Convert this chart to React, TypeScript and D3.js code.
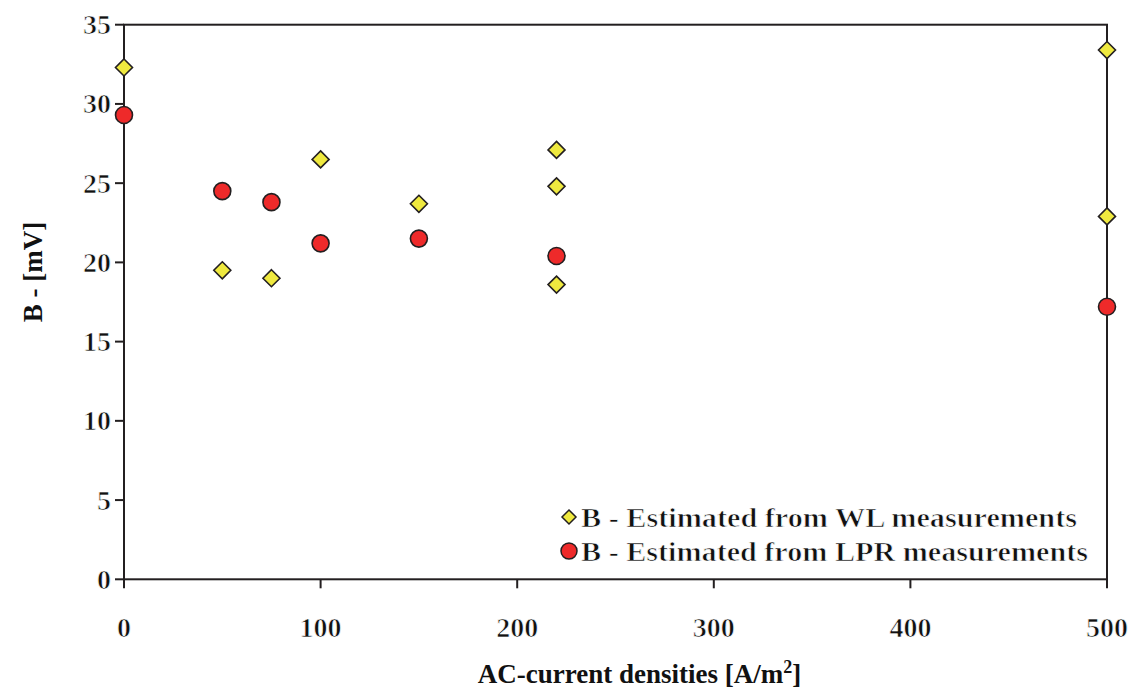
import React from "react";
import * as d3 from "d3";

// B values estimated from weight-loss measurements
const wlCurrent = [0, 50, 75, 100, 150, 220, 220, 220, 500, 500];
const wlB = [32.3, 19.5, 19.0, 26.5, 23.7, 27.1, 24.8, 18.6, 33.4, 22.9];

// B values estimated from LPR measurements
const lprCurrent = [0, 50, 75, 100, 150, 220, 500];
const lprB = [29.3, 24.5, 23.8, 21.2, 21.5, 20.4, 17.2];

const xTicks = [0, 100, 200, 300, 400, 500];
const yTicks = [0, 5, 10, 15, 20, 25, 30, 35];

const legendLabels = [
  "B - Estimated from WL measurements",
  "B - Estimated from LPR measurements",
];

const W = 1134;
const H = 691;
const M = { left: 124, right: 1107, top: 24.7, bottom: 579.3 };

const FONT = "'Liberation Serif', 'Times New Roman', serif";
const YELLOW = "#efe93f";
const RED = "#ee2a2a";
const STROKE = "#231f20";

function diamond(cx: number, cy: number, r: number) {
  return `M${cx},${cy - r}L${cx + r},${cy}L${cx},${cy + r}L${cx - r},${cy}Z`;
}

// lighter serif text: the bold face thinned by a white outline
const light = {
  fontFamily: FONT,
  fontWeight: 700 as const,
  fill: "#111",
  stroke: "#fff",
  strokeWidth: 0.72,
  strokeLinejoin: "round" as const,
};
const heavy = { fontFamily: FONT, fontWeight: 700 as const, fill: "#111" };

export default function App() {
  const x = d3.scaleLinear().domain([0, 500]).range([M.left, M.right]);
  const y = d3.scaleLinear().domain([0, 35]).range([M.bottom, M.top]);

  return (
    <svg
      width={W}
      height={H}
      style={{ position: "absolute", left: 0, top: 0, background: "#fff", fontFamily: FONT }}
    >
      {/* plot frame */}
      <rect
        x={M.left}
        y={M.top}
        width={M.right - M.left}
        height={M.bottom - M.top}
        fill="none"
        stroke={STROKE}
        strokeWidth={2}
      />

      {/* y axis ticks and labels */}
      {yTicks.map((t) => (
        <g key={`y${t}`}>
          <line x1={M.left - 9} x2={M.left} y1={y(t)} y2={y(t)} stroke={STROKE} strokeWidth={2} />
          <text
            x={M.left - 13}
            y={y(t)}
            dy="0.34em"
            textAnchor="end"
            style={{ ...light, fontSize: 28 }}
          >
            {String(t)}
          </text>
        </g>
      ))}

      {/* x axis ticks and labels */}
      {xTicks.map((t) => (
        <g key={`x${t}`}>
          <line x1={x(t)} x2={x(t)} y1={M.bottom} y2={M.bottom + 9} stroke={STROKE} strokeWidth={2} />
          <text x={x(t)} y={M.bottom + 58} textAnchor="middle" style={{ ...light, fontSize: 28 }}>
            {String(t)}
          </text>
        </g>
      ))}

      {/* axis titles */}
      <text
        x={(M.left + M.right) / 2 + 24}
        y={683}
        textAnchor="middle"
        style={{ ...heavy, fontSize: 27 }}
      >
        AC-current densities [A/m
        <tspan dy={-10} style={{ fontSize: 18 }}>2</tspan>
        <tspan dy={10}>]</tspan>
      </text>
      <text
        transform={`translate(42,${(M.top + M.bottom) / 2 - 30}) rotate(-90)`}
        textAnchor="middle"
        style={{ ...heavy, fontSize: 27 }}
      >
        B - [mV]
      </text>

      {/* WL series */}
      {wlCurrent.map((c, i) => (
        <path
          key={`wl${i}`}
          d={diamond(x(c), y(wlB[i]), 8.5)}
          fill={YELLOW}
          stroke={STROKE}
          strokeWidth={1.6}
        />
      ))}

      {/* LPR series */}
      {lprCurrent.map((c, i) => (
        <circle
          key={`lpr${i}`}
          cx={x(c)}
          cy={y(lprB[i])}
          r={8.5}
          fill={RED}
          stroke={STROKE}
          strokeWidth={1.6}
        />
      ))}

      {/* legend */}
      <g>
        <path d={diamond(569, 517, 7)} fill={YELLOW} stroke={STROKE} strokeWidth={1.5} />
        <text
          x={581}
          y={517}
          dy="0.34em"
          textLength={496}
          lengthAdjust="spacingAndGlyphs"
          style={{ ...light, fontSize: 28 }}
        >
          {legendLabels[0]}
        </text>
        <circle cx={569} cy={551} r={8} fill={RED} stroke={STROKE} strokeWidth={1.5} />
        <text
          x={581}
          y={551}
          dy="0.34em"
          textLength={507}
          lengthAdjust="spacingAndGlyphs"
          style={{ ...light, fontSize: 28 }}
        >
          {legendLabels[1]}
        </text>
      </g>
    </svg>
  );
}
